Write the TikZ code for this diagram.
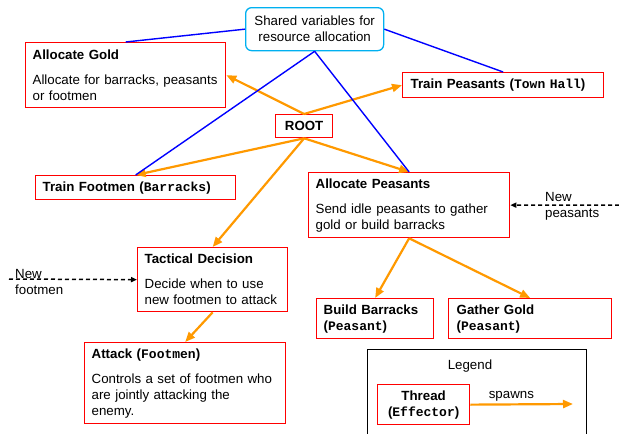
\documentclass[tikz,border=0pt]{standalone}
\usepackage{fontspec}
\setmainfont{Liberation Sans}
\setmonofont{Liberation Mono}
\usetikzlibrary{arrows.meta}
\definecolor{thrred}{RGB}{255,0,0}
\definecolor{spawnorange}{RGB}{255,153,0}
\definecolor{sharedcyan}{RGB}{0,176,240}
\newcommand{\eff}[1]{{\fontsize{13}{16}\selectfont\ttfamily\bfseries #1}}
\newcommand{\ttl}[1]{\textbf{#1}\\[9pt]}
\tikzset{
  thr/.style={rectangle, draw=thrred, line width=1.3pt, fill=white, anchor=north west, align=left,
    inner xsep=7pt, inner ysep=0pt, font=\fontsize{13.3}{16}\selectfont},
  sharedbox/.style={thr, draw=sharedcyan, rounded corners=6pt, align=center},
  legendbox/.style={rectangle, draw=black, line width=1.2pt, anchor=north west, inner sep=0pt},
  lbl/.style={font=\fontsize{13.3}{16}\selectfont, align=left, inner sep=0pt},
  arr/.style={-{Triangle[length=10pt,width=8pt]}, draw=spawnorange, line width=2.2pt},
  link/.style={draw=blue, line width=1.4pt},
  newin/.style={-{Triangle[length=6pt,width=5pt]}, dash pattern=on 4pt off 3pt, line width=1.5pt}
}

\begin{document}
\begin{tikzpicture}[x=1pt, y=-1pt]
\useasboundingbox (0,0) rectangle (619,434);
\clip (0,0) rectangle (619,434);
% legend
\node[legendbox, minimum width=219pt, minimum height=100pt] (legend) at (367,349) {};
\node[lbl] (legendtitle) at (470,366) {Legend};
\node[thr, align=center, text width=78pt, minimum height=40pt] (thread) at (377,384)
  {\textbf{Thread}\\\textbf{(\eff{Effector})}};
\coordinate (spawnend) at (573,404);
\draw[arr] (thread.east) -- (spawnend) node[lbl, pos=0.4, above=2pt] (spawnlbl) {spawns};
% threads
\node[sharedbox, text width=124pt, minimum height=43pt] (shared) at (245,7)
  {Shared variables for\\resource allocation};
\node[thr, text width=186pt, minimum height=65pt] (gold) at (25,42)
  {\ttl{Allocate Gold}Allocate for barracks, peasants\\or footmen};
\node[thr, inner xsep=8pt, text width=185pt, minimum height=25pt] (tpeas) at (402,72)
  {\textbf{Train Peasants (\eff{Town Hall})}};
\node[thr, align=center, text width=43pt, minimum height=23pt] (root) at (275,114) {\textbf{ROOT}};
\node[thr, text width=186pt, minimum height=24pt] (tfoot) at (35,175)
  {\textbf{Train Footmen (\eff{Barracks})}};
\node[thr, text width=187pt, minimum height=65pt] (apeas) at (308,172)
  {\ttl{Allocate Peasants}Send idle peasants to gather\\gold or build barracks};
\node[thr, text width=136pt, minimum height=64pt] (tact) at (137,247)
  {\ttl{Tactical Decision}Decide when to use\\new footmen to attack};
\node[thr, text width=187pt, minimum height=81pt] (attack) at (84,342)
  {\ttl{Attack (\eff{Footmen})}Controls a set of footmen who\\are jointly attacking the\\enemy.};
\node[thr, text width=103pt, minimum height=40pt] (build) at (316,298)
  {\textbf{Build Barracks}\\\textbf{(\eff{Peasant})}};
\node[thr, inner xsep=8pt, text width=147pt, minimum height=40pt] (gather) at (448,298)
  {\textbf{Gather Gold}\\\textbf{(\eff{Peasant})}};
% spawning
\draw[arr] (root.north) -- (gold.east);
\draw[arr] (root.north) -- (tpeas.west);
\draw[arr] (root.south) -- (tfoot.north);
\draw[arr] (root.south) -- (apeas.north);
\draw[arr] (root.south) -- (tact.north);
\draw[arr] (tact.south) -- (attack.north);
\draw[arr] (apeas.south) -- (build.north);
\draw[arr] (apeas.south) -- (gather.north);
% shared variables
\draw[link] (shared.west) -- (gold.north);
\draw[link] (shared.south) -- (tfoot.north);
\draw[link] (shared.south) -- (apeas.north);
\draw[link] (shared.east) -- (tpeas.north);
% new units
\coordinate (peasin) at (619,205);
\draw[newin] (peasin) -- (apeas.east);
\node[lbl, anchor=west] (peastxt) at (545,206) {New\\peasants};
\coordinate (footin) at (9,279);
\draw[newin] (footin) -- (tact.west);
\node[lbl, anchor=west] (foottxt) at (15,282) {New\\footmen};
\end{tikzpicture}
\end{document}
